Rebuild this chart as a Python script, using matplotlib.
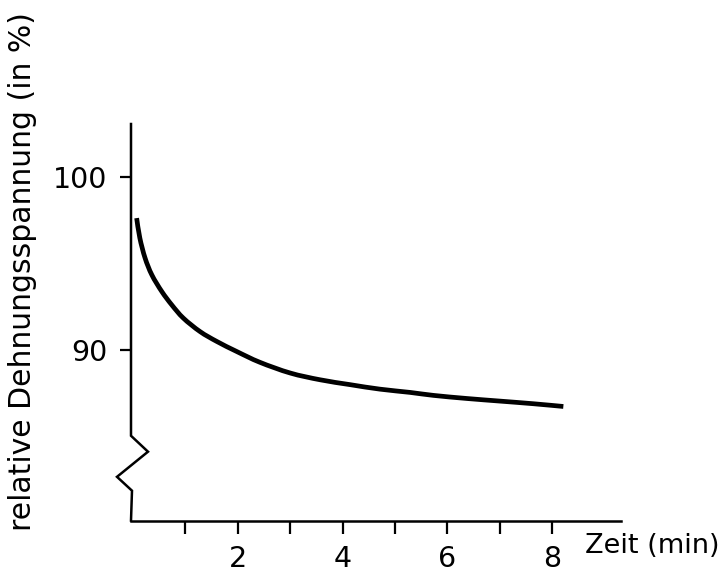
import matplotlib
matplotlib.use("Agg")
import matplotlib.pyplot as plt
from matplotlib.path import Path
from matplotlib.patches import PathPatch
import numpy as np

# Data
zeit = [0.07, 0.13, 0.23, 0.36, 0.55, 0.74, 0.96, 1.28, 1.60, 1.98, 2.42, 3.00,
        3.57, 4.14, 4.71, 5.29, 5.73, 6.37, 7.00, 7.63, 8.21]
spannung = [97.6, 96.46, 95.30, 94.32, 93.36, 92.59, 91.83, 91.05, 90.48, 89.90,
            89.28, 88.66, 88.27, 87.99, 87.73, 87.54, 87.37, 87.19, 87.04, 86.89, 86.73]
x_ticks = [1, 2, 3, 4, 5, 6, 7, 8]
x_ticklabels = ["", "2", "", "4", "", "6", "", "8"]
y_ticks = [90, 100]
y_ticklabels = ["90", "100"]

plt.rcParams['font.family'] = ['DejaVu Sans']

fig = plt.figure(figsize=(7.23, 5.73), dpi=100)
ax = fig.add_axes([131/723, 1-520.5/573, (621-131)/723, (520.5-124)/573])

ax.set_xlim(-0.038, 9.31)
ax.set_ylim(80.15, 103.03)

# smooth curve through the read points (Catmull-Rom -> cubic Bezier path)
xs = np.asarray(zeit, float)
ys = np.asarray(spannung, float)
verts = [(xs[0], ys[0])]
codes = [Path.MOVETO]
n = len(xs)
for i in range(n - 1):
    p0 = np.array([xs[max(i - 1, 0)], ys[max(i - 1, 0)]])
    p1 = np.array([xs[i], ys[i]])
    p2 = np.array([xs[i + 1], ys[i + 1]])
    p3 = np.array([xs[min(i + 2, n - 1)], ys[min(i + 2, n - 1)]])
    c1 = p1 + (p2 - p0) / 6.0
    c2 = p2 - (p3 - p1) / 6.0
    verts += [tuple(c1), tuple(c2), tuple(p2)]
    codes += [Path.CURVE4, Path.CURVE4, Path.CURVE4]
ax.add_patch(PathPatch(Path(verts, codes), facecolor='none', edgecolor='black',
                       lw=3.4, capstyle='butt'))

for s in ['top', 'right', 'left']:
    ax.spines[s].set_visible(False)
ax.spines['bottom'].set_linewidth(1.8)

# left axis with break (zigzag)
bx = [-0.038, -0.038, 0.286, -0.305, -0.019, -0.038]
by = [103.03, 85.04, 84.12, 82.67, 81.87, 80.15]
ax.plot(bx, by, color='black', lw=1.8, clip_on=False, solid_joinstyle='miter')

ax.set_xticks(x_ticks)
ax.set_xticklabels(x_ticklabels)
ax.set_yticks(y_ticks)
ax.set_yticklabels(y_ticklabels)
ax.tick_params(axis='x', length=9.5, width=1.6, labelsize=20.5, pad=8, direction='out')
ax.tick_params(axis='y', length=8, width=1.6, labelsize=20.5, pad=9, direction='out')

fig.text(585/723, 1-553/573, "Zeit (min)", fontsize=19.5, ha='left', va='baseline')
fig.text(22.5/723, 1-272/573, "relative Dehnungsspannung (in %)", fontsize=21.5,
         rotation=90, ha='center', va='center')

fig.savefig("out.png", dpi=100)
